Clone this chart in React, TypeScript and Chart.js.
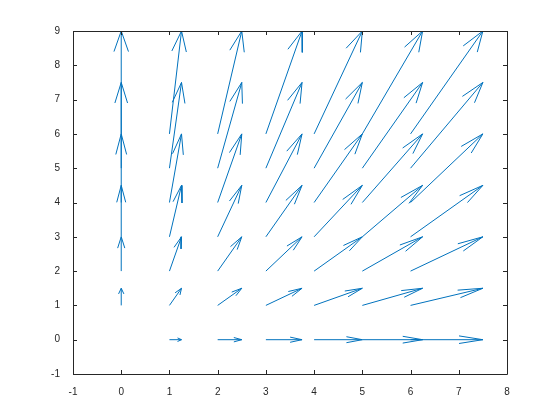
import React, { useEffect, useRef } from "react";
import { Chart, registerables } from "chart.js";

Chart.register(...registerables);

// Grid of arrow tails
const gridX = [0, 1, 2, 3, 4, 5, 6];
const gridY = [0, 1, 2, 3, 4, 5, 6];
// Horizontal component for each column, vertical component for each row (as plotted)
const uByColumn = [0, 0.25, 0.5, 0.75, 1, 1.25, 1.5];
const vByRow = [0, 0.5, 1, 1.5, 2, 2.5, 3];
// Axis ticks
const xTickValues = [-1, 0, 1, 2, 3, 4, 5, 6, 7, 8];
const yTickValues = [-1, 0, 1, 2, 3, 4, 5, 6, 7, 8, 9];

// Arrowhead style (in axes-normalized units)
const HEAD_FRAC = 0.33;
const HEAD_CAP = 0.06;
const HEAD_W0 = 0.004;
const HEAD_W1 = 0.0424;

const LINE_COLOR = "rgb(0,114,189)";
const AXIS_COLOR = "#262626";

function buildArrowPoints() {
  const pts: { x: number; y: number | null }[] = [];
  const XR = xTickValues[xTickValues.length - 1] - xTickValues[0];
  const YR = yTickValues[yTickValues.length - 1] - yTickValues[0];
  gridX.forEach((x, i) => {
    gridY.forEach((y, j) => {
      const u = uByColumn[i];
      const v = vByRow[j];
      if (u === 0 && v === 0) return;
      const xe = x + u;
      const ye = y + v;
      const un = u / XR;
      const vn = v / YR;
      const len = Math.hypot(un, vn);
      const dx = un / len;
      const dy = vn / len;
      const b = Math.min(HEAD_FRAC * len, HEAD_CAP);
      const w = HEAD_W0 + HEAD_W1 * len;
      const bx = -dx * b;
      const by = -dy * b;
      const b1x = xe + (bx - dy * w) * XR;
      const b1y = ye + (by + dx * w) * YR;
      const b2x = xe + (bx + dy * w) * XR;
      const b2y = ye + (by - dx * w) * YR;
      pts.push({ x, y }, { x: xe, y: ye }, { x: xe, y: null });
      pts.push({ x: b1x, y: b1y }, { x: xe, y: ye }, { x: b2x, y: b2y }, { x: b2x, y: null });
    });
  });
  return pts;
}

const boxPlugin = {
  id: "octaveBox",
  afterDraw(chart: any) {
    const { ctx, chartArea, scales } = chart;
    const { left, right, top, bottom } = chartArea;
    const px = (v: number) => Math.round(v) + 0.5;
    ctx.save();
    ctx.strokeStyle = AXIS_COLOR;
    ctx.lineWidth = 1;
    ctx.beginPath();
    ctx.rect(px(left), px(top), Math.round(right) - Math.round(left), Math.round(bottom) - Math.round(top));
    ctx.stroke();
    const tl = 4;
    ctx.beginPath();
    xTickValues.forEach((t) => {
      const x = px(scales.x.getPixelForValue(t));
      ctx.moveTo(x, Math.round(bottom));
      ctx.lineTo(x, Math.round(bottom) - tl);
      ctx.moveTo(x, Math.round(top));
      ctx.lineTo(x, Math.round(top) + tl);
    });
    yTickValues.forEach((t) => {
      const y = px(scales.y.getPixelForValue(t));
      ctx.moveTo(Math.round(left), y);
      ctx.lineTo(Math.round(left) + tl, y);
      ctx.moveTo(Math.round(right), y);
      ctx.lineTo(Math.round(right) - tl, y);
    });
    ctx.stroke();
    ctx.restore();
  },
};

export default function App() {
  const canvasRef = useRef<HTMLCanvasElement | null>(null);

  useEffect(() => {
    if (!canvasRef.current) return;
    const font = { family: "'Liberation Sans', Arial, sans-serif", size: 10 };
    const chart = new Chart(canvasRef.current, {
      type: "scatter",
      data: {
        datasets: [
          {
            data: buildArrowPoints() as any,
            showLine: true,
            spanGaps: false,
            borderColor: LINE_COLOR,
            borderWidth: 1,
            pointRadius: 0,
            pointHoverRadius: 0,
            fill: false,
          },
        ],
      },
      options: {
        animation: false,
        responsive: false,
        devicePixelRatio: 1,
        events: [],
        layout: { padding: { top: 31, right: 53, left: 0, bottom: 0 } },
        plugins: { legend: { display: false }, tooltip: { enabled: false } },
        scales: {
          x: {
            type: "linear",
            min: -1,
            max: 8,
            afterBuildTicks: (s: any) => {
              s.ticks = xTickValues.map((v) => ({ value: v }));
            },
            afterFit: (s: any) => {
              s.height = 46;
            },
            grid: { display: false },
            border: { display: false },
            ticks: { color: AXIS_COLOR, font, padding: 4, maxRotation: 0, autoSkip: false },
          },
          y: {
            type: "linear",
            min: -1,
            max: 9,
            afterBuildTicks: (s: any) => {
              s.ticks = yTickValues.map((v) => ({ value: v }));
            },
            afterFit: (s: any) => {
              s.width = 73;
            },
            grid: { display: false },
            border: { display: false },
            ticks: { color: AXIS_COLOR, font, padding: 5, autoSkip: false },
          },
        },
      },
      plugins: [boxPlugin],
    });
    return () => chart.destroy();
  }, []);

  return (
    <div style={{ position: "absolute", left: 0, top: 0, width: 560, height: 420, background: "#fff" }}>
      <canvas ref={canvasRef} width={560} height={420} />
    </div>
  );
}
